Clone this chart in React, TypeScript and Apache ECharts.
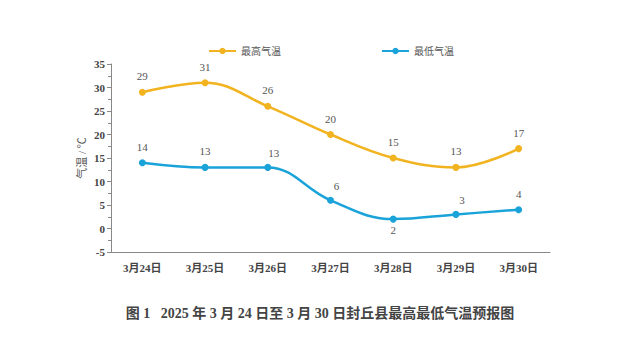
import React, { useEffect, useRef } from "react";
import * as echarts from "echarts";

const categories = ["3月24日", "3月25日", "3月26日", "3月27日", "3月28日", "3月29日", "3月30日"];
const maxTemps = [29, 31, 26, 20, 15, 13, 17];
const minTemps = [14, 13, 13, 6, 2, 3, 4];
const minLabelPositions = ["top", "top", "topRight", "topRight", "bottom", "topRight", "top"];
const yTicks = { min: -5, max: 35, interval: 5 };

const FONT = "'Liberation Serif', 'Noto Sans CJK SC', serif";

export default function App() {
  const ref = useRef<HTMLDivElement>(null);
  useEffect(() => {
    document.body.style.margin = "0";
    if (!ref.current) return;
    const chart = echarts.init(ref.current, undefined, { renderer: "svg" });
    const yellow = "#F2B320";
    const blue = "#1AA3D9";
    const minData = minTemps.map((v, i) => {
      const p = minLabelPositions[i];
      let label: any = { position: "top" };
      if (p === "topRight") label = { position: "top", offset: [6, 2] };
      if (p === "bottom") label = { position: "bottom", distance: 2 };
      return { value: v, label };
    });
    chart.setOption({
      animation: false,
      textStyle: { fontFamily: FONT },
      legend: {
        top: 41,
        left: 203,
        itemGap: 100,
        itemWidth: 27,
        itemHeight: 8,
        textStyle: { fontFamily: FONT, fontSize: 10, color: "#555" },
        data: ["最高气温", "最低气温"],
      },
      title: {
        text: "图 1   2025 年 3 月 24 日至 3 月 30 日封丘县最高最低气温预报图",
        left: "center",
        top: 301,
        textStyle: { fontFamily: FONT, fontSize: 14, fontWeight: "bold", color: "#444" },
      },
      grid: { left: 111, right: 90, top: 64, bottom: 101, containLabel: false },
      xAxis: {
        type: "category",
        data: categories,
        boundaryGap: true,
        axisLine: { onZero: false, lineStyle: { color: "#888", width: 1 } },
        axisTick: { inside: true, length: 4, lineStyle: { color: "#888" } },
        axisLabel: { color: "#444", fontWeight: "bold", fontSize: 11, fontFamily: FONT, margin: 10 },
      },
      yAxis: {
        type: "value",
        min: yTicks.min,
        max: yTicks.max,
        interval: yTicks.interval,
        name: "气温 / ℃",
        nameLocation: "middle",
        nameGap: 24,
        nameMoveOverlap: false,
        nameRotate: 90,
        nameTextStyle: { color: "#555", fontSize: 11, fontFamily: FONT },
        axisLine: { show: true, lineStyle: { color: "#888" } },
        axisTick: { show: true, length: 4, lineStyle: { color: "#888" } },
        minorTick: { show: true, splitNumber: 2, length: 3, lineStyle: { color: "#888" } },
        splitLine: { show: false },
        axisLabel: { color: "#444", fontWeight: "bold", fontSize: 11, fontFamily: FONT, margin: 6 },
      },
      series: [
        {
          name: "最高气温",
          type: "line",
          smooth: 0.4,
          data: maxTemps,
          symbol: "circle",
          symbolSize: 7,
          itemStyle: { color: yellow },
          lineStyle: { color: yellow, width: 2.5 },
          label: { show: true, position: "top", distance: 7, color: "#555", fontSize: 11, fontFamily: FONT },
        },
        {
          name: "最低气温",
          type: "line",
          smooth: 0.4,
          data: minData,
          symbol: "circle",
          symbolSize: 7,
          itemStyle: { color: blue },
          lineStyle: { color: blue, width: 2.5 },
          label: { show: true, position: "top", distance: 7, color: "#555", fontSize: 11, fontFamily: FONT },
        },
      ],
    });
    return () => chart.dispose();
  }, []);
  return <div ref={ref} style={{ width: 640, height: 353 }} />;
}
